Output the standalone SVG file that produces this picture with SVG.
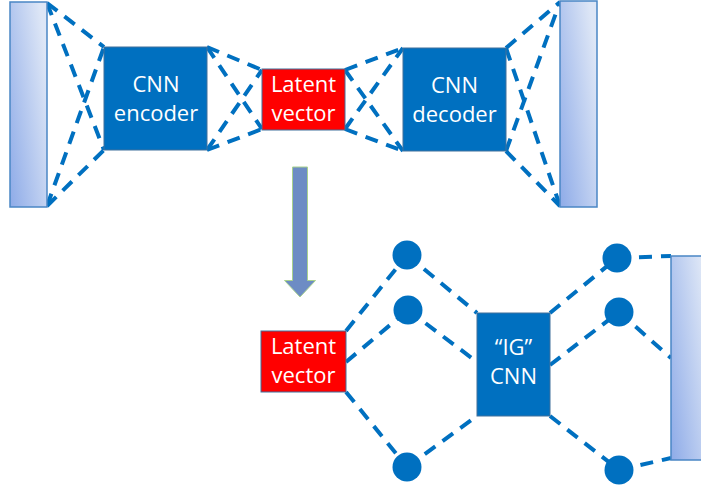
<svg xmlns="http://www.w3.org/2000/svg" width="701" height="487" viewBox="0 0 701 487">
<defs>
<linearGradient id="barGrad" x1="0" y1="1" x2="1" y2="0.3">
<stop offset="0" stop-color="#8eabe8"/>
<stop offset="1" stop-color="#dde6f6"/>
</linearGradient>
<style>
.bar{fill:url(#barGrad);stroke:#4a86c5;stroke-width:1.5}
.blue{fill:#0070c0;stroke:#41719c;stroke-width:1}
.red{fill:#ff0000;stroke:#41719c;stroke-width:1}
.dot{fill:#0070c0}
.lbl{font-family:"Open Sans","Noto Sans","Liberation Sans",sans-serif;font-size:22px;fill:#ffffff;text-anchor:middle}
.conn line{stroke:#0070c0;stroke-width:4;stroke-dasharray:13 9;fill:none}
.arrow{fill:#6d8cc4;stroke:#a9d18e;stroke-width:1}
</style>
</defs>
<g id="connectors" class="conn">
<line x1="47" y1="3" x2="104" y2="47"/>
<line x1="47" y1="3" x2="104" y2="150"/>
<line x1="47" y1="206" x2="104" y2="47"/>
<line x1="47" y1="206" x2="104" y2="150"/>
<line x1="207" y1="47" x2="262" y2="70"/>
<line x1="207" y1="47" x2="262" y2="129"/>
<line x1="207" y1="150" x2="262" y2="70"/>
<line x1="207" y1="150" x2="262" y2="129"/>
<line x1="345" y1="70" x2="403" y2="48"/>
<line x1="345" y1="70" x2="403" y2="151"/>
<line x1="345" y1="129" x2="403" y2="48"/>
<line x1="345" y1="129" x2="403" y2="151"/>
<line x1="506" y1="48" x2="560" y2="2"/>
<line x1="506" y1="48" x2="560" y2="206"/>
<line x1="506" y1="151" x2="560" y2="2"/>
<line x1="506" y1="151" x2="560" y2="206"/>
<line x1="346" y1="331" x2="407" y2="255"/>
<line x1="346" y1="362" x2="408" y2="310"/>
<line x1="346" y1="392" x2="407" y2="467"/>
<line x1="407" y1="255" x2="477" y2="313"/>
<line x1="408" y1="310" x2="477" y2="362"/>
<line x1="407" y1="467" x2="477" y2="416"/>
<line x1="550" y1="313" x2="617" y2="258"/>
<line x1="550" y1="365" x2="619" y2="312"/>
<line x1="550" y1="416" x2="619" y2="470"/>
<line x1="617" y1="258" x2="671" y2="256"/>
<line x1="619" y1="312" x2="671" y2="358"/>
<line x1="619" y1="470" x2="671" y2="458"/>
</g>
<g id="inputBar">
<rect class="bar" x="10" y="2" width="37" height="205"/>
</g>
<g id="outputBar">
<rect class="bar" x="560" y="1" width="37" height="206"/>
</g>
<g id="encoder">
<rect class="blue" x="104" y="47" width="103" height="103"/>
<text class="lbl" x="156" y="92">CNN</text>
<text class="lbl" x="156" y="121">encoder</text>
</g>
<g id="latentTop">
<rect class="red" x="262" y="69" width="83" height="61"/>
<text class="lbl" x="303.5" y="92">Latent</text>
<text class="lbl" x="303.5" y="121">vector</text>
</g>
<g id="decoder">
<rect class="blue" x="403" y="48" width="103" height="103"/>
<text class="lbl" x="454.5" y="93">CNN</text>
<text class="lbl" x="454.5" y="122">decoder</text>
</g>
<g id="downArrow">
<polygon class="arrow" points="292.5,167 307.5,167 307.5,280.5 315.5,280.5 300,297 284.5,280.5 292.5,280.5"/>
</g>
<g id="latentBottom">
<rect class="red" x="261" y="331" width="85" height="61"/>
<text class="lbl" x="303.5" y="354">Latent</text>
<text class="lbl" x="303.5" y="383">vector</text>
</g>
<g id="circle1"><circle class="dot" cx="407" cy="255" r="14.5"/></g>
<g id="circle2"><circle class="dot" cx="408" cy="310" r="14.5"/></g>
<g id="circle3"><circle class="dot" cx="407" cy="467" r="14.5"/></g>
<g id="igCnn">
<rect class="blue" x="477" y="313" width="73" height="103"/>
<text class="lbl" x="513.5" y="355">“IG”</text>
<text class="lbl" x="513.5" y="384">CNN</text>
</g>
<g id="circle4"><circle class="dot" cx="617" cy="258" r="14.5"/></g>
<g id="circle5"><circle class="dot" cx="619" cy="312" r="14.5"/></g>
<g id="circle6"><circle class="dot" cx="619" cy="470" r="14.5"/></g>
<g id="outputBar2">
<rect class="bar" x="671" y="256" width="37" height="204"/>
</g>
</svg>
